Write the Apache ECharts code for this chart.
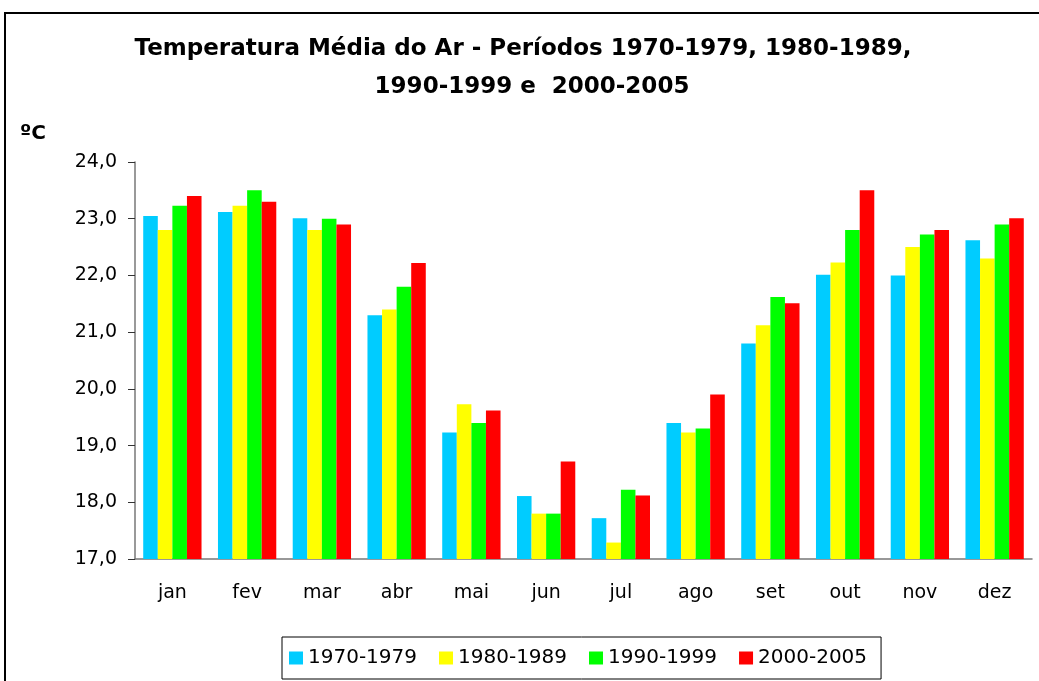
<!DOCTYPE html>
<html>
<head>
<meta charset="utf-8">
<script src="https://cdn.jsdelivr.net/npm/echarts@6/dist/echarts.min.js"></script>
<style>html,body{margin:0;padding:0;background:#fff}#c{width:1039px;height:681px}</style>
</head>
<body>
<div id="c"></div>
<script>
const categories = ['jan','fev','mar','abr','mai','jun','jul','ago','set','out','nov','dez'];
const s1970 = [23.05, 23.12, 23.01, 21.30, 19.23, 18.11, 17.72, 19.40, 20.80, 22.01, 22.00, 22.62];
const s1980 = [22.80, 23.23, 22.80, 21.40, 19.73, 17.80, 17.29, 19.23, 21.12, 22.23, 22.50, 22.30];
const s1990 = [23.23, 23.50, 23.00, 21.80, 19.40, 17.80, 18.22, 19.30, 21.62, 22.80, 22.72, 22.90];
const s2000 = [23.40, 23.30, 22.90, 22.22, 19.62, 18.72, 18.12, 19.90, 21.51, 23.50, 22.80, 23.01];
const seriesNames = ['1970-1979','1980-1989','1990-1999','2000-2005'];
const titleLines = ['Temperatura Média do Ar - Períodos 1970-1979, 1980-1989,', '1990-1999 e  2000-2005'];
const unitLabel = 'ºC';
const colors = ['#00CCFF','#FFFF00','#00FF00','#FF0000'];
const yMin = 17, yMax = 24, yStep = 1;

const chart = echarts.init(document.getElementById('c'));
const font = '"DejaVu Sans", sans-serif';
const data = [s1970, s1980, s1990, s2000];
chart.setOption({
  animation: false,
  textStyle: { fontFamily: font, color: '#000' },
  graphic: [{
    type: 'rect', shape: { x: 5, y: 13, width: 1040, height: 680 },
    style: { fill: 'none', stroke: '#000', lineWidth: 2 }, z: 100
  }, {
    type: 'text', x: 523, y: 38,
    style: { text: titleLines[0], fontFamily: font, fontWeight: 'bold', fontSize: 23, fill: '#000', align: 'center', verticalAlign: 'top' }
  }, {
    type: 'text', x: 532, y: 76,
    style: { text: titleLines[1], fontFamily: font, fontWeight: 'bold', fontSize: 23, fill: '#000', align: 'center', verticalAlign: 'top' }
  }, {
    type: 'text', x: 20, y: 124,
    style: { text: unitLabel, fontFamily: font, fontWeight: 'bold', fontSize: 20, fill: '#000' }
  }],
  legend: {
    data: seriesNames, left: 282, top: 637,
    borderColor: '#000', borderWidth: 1, padding: [11, 14, 11, 7],
    itemWidth: 14, itemHeight: 13, itemGap: 22, icon: 'rect',
    textStyle: { fontFamily: font, fontSize: 20, color: '#000' }
  },
  grid: { left: 135, right: 7, top: 162, bottom: 122, containLabel: false },
  xAxis: {
    type: 'category', data: categories,
    axisLine: { lineStyle: { color: '#777', width: 1.5 } },
    axisTick: { lineStyle: { color: '#333' }, length: 6 },
    axisLabel: { fontSize: 19, color: '#000', margin: 25, fontFamily: font }
  },
  yAxis: {
    type: 'value', min: yMin, max: yMax, interval: yStep,
    splitLine: { show: false },
    axisLine: { show: true, lineStyle: { color: '#777', width: 1.5 } },
    axisTick: { show: true, lineStyle: { color: '#333' }, length: 7 },
    axisLabel: { fontSize: 19, color: '#000', margin: 18, fontFamily: font,
      formatter: v => v.toFixed(1).replace('.', ',') }
  },
  series: data.map((d, i) => ({
    name: seriesNames[i], type: 'bar', data: d,
    barGap: '0%', barCategoryGap: '22%',
    itemStyle: { color: colors[i] }
  }))
});
</script>
</body>
</html>
